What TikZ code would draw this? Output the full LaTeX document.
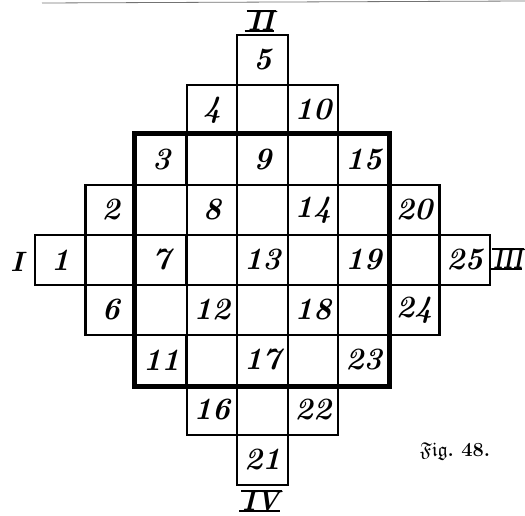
\documentclass[tikz,border=0pt]{standalone}
\usepackage{amssymb}
\begin{document}
\begin{tikzpicture}[x=1pt,y=-1pt,
  cell/.style={draw, line width=2.3pt, minimum width=50.5pt, minimum height=50pt,
    inner sep=0pt, font=\fontsize{31}{31}\selectfont\bfseries\itshape},
  thickbox/.style={line width=5pt},
  roman/.style={font=\fontsize{28}{28}\selectfont\bfseries\itshape, inner sep=0pt},
  bar/.style={line width=2pt},
  caption/.style={font=\fontsize{20}{20}\selectfont\bfseries, inner sep=0pt}]
\useasboundingbox (0,0) rectangle (525,516);
\draw[line width=0.8pt, black!55] (42,3) -- (525,1);
\foreach \i in {0,...,4} {
  \foreach \j in {0,...,4} {
    \pgfmathtruncatemacro\k{5*\i+\j+1}
    \pgfmathsetmacro\cx{35+50.55*(\i+\j)+25.27}
    \pgfmathsetmacro\cy{35+50*(4+\i-\j)+25}
    \node[cell] (c\k) at (\cx,\cy) {\k};
  }
}
\draw[thickbox] (c3.north west) rectangle (c23.south east);
% Roman numerals
\node[roman] (rI) at (17,262) {I};
\node[roman] (rII) at (261,21) {II};
\draw[bar] ([xshift=-1pt]rII.north west) -- ([xshift=2pt]rII.north east);
\draw[bar] ([xshift=-3pt]rII.south west) -- ([xshift=0pt]rII.south east);
\node[roman, anchor=east] (rIII) at (523,259) {\scalebox{0.75}[1]{III}};
\draw[bar] ([xshift=-1pt]rIII.north west) -- ([xshift=1pt]rIII.north east);
\draw[bar] (c25.east |- rIII.south) -- ([xshift=-1pt]rIII.south east);
\node[roman] (rIV) at (261,501) {IV};
\draw[bar] ([xshift=-1pt]rIV.north west) -- ([xshift=2pt]rIV.north east);
\draw[bar] ([xshift=-3pt]rIV.south west) -- ([xshift=0pt]rIV.south east);
% caption
\node[caption] (fig) at (455,451) {$\mathfrak{Fig}$.\ 48.};
\end{tikzpicture}
\end{document}
